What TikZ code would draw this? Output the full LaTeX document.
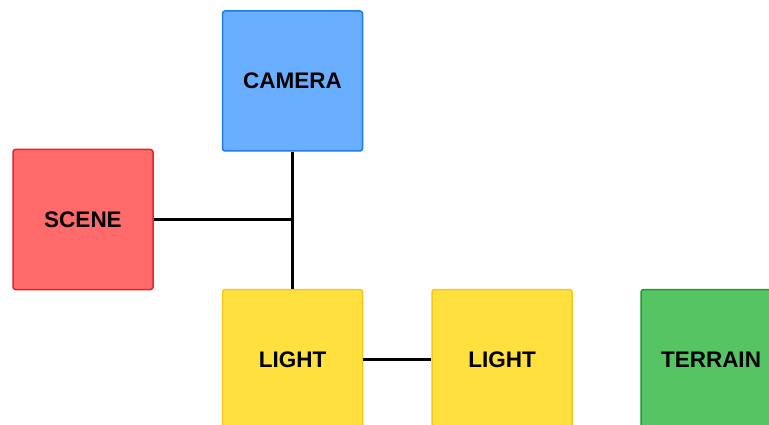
\documentclass[tikz,border=0pt]{standalone}
\usepackage{fontspec}
\setmainfont{Liberation Sans}
\definecolor{camfill}{HTML}{6AAEFF}
\definecolor{camline}{HTML}{1F7BE6}
\definecolor{scenefill}{HTML}{FF6B6B}
\definecolor{sceneline}{HTML}{E5232A}
\definecolor{lightfill}{HTML}{FFE03F}
\definecolor{lightline}{HTML}{F4C916}
\definecolor{terrfill}{HTML}{55C463}
\definecolor{terrline}{HTML}{229B2D}
\tikzset{
  block/.style={draw, line width=1.5pt, rounded corners=2.5pt, minimum width=140pt,
    minimum height=140pt, inner sep=0pt,
    font=\fontsize{22.5}{26}\selectfont\bfseries},
  link/.style={draw=black, line width=2.5pt}
}
\begin{document}
\begin{tikzpicture}[x=1pt, y=-1pt]
  \useasboundingbox (0,0) rectangle (769,425);
  \clip (0,0) rectangle (769,425);
  \fill[white] (0,0) rectangle (769,425);
  % component boxes
  \node[block, fill=camfill, draw=camline] (camera) at (292.5,81) {CAMERA};
  \node[block, fill=scenefill, draw=sceneline] (scene) at (83,219.5) {SCENE};
  \node[block, fill=lightfill, draw=lightline] (light1) at (292.5,359.5) {LIGHT};
  \node[block, fill=lightfill, draw=lightline] (light2) at (502,359.5) {LIGHT};
  \node[block, fill=terrfill, draw=terrline] (terrain) at (711,359.5) {TERRAIN};
  % connectors
  \coordinate (joint) at (scene.east -| camera.south);
  \draw[link] (camera.south) -- (light1.north);
  \draw[link] (scene.east) -- (joint);
  \draw[link] (light1.east) -- (light2.west);
\end{tikzpicture}
\end{document}
